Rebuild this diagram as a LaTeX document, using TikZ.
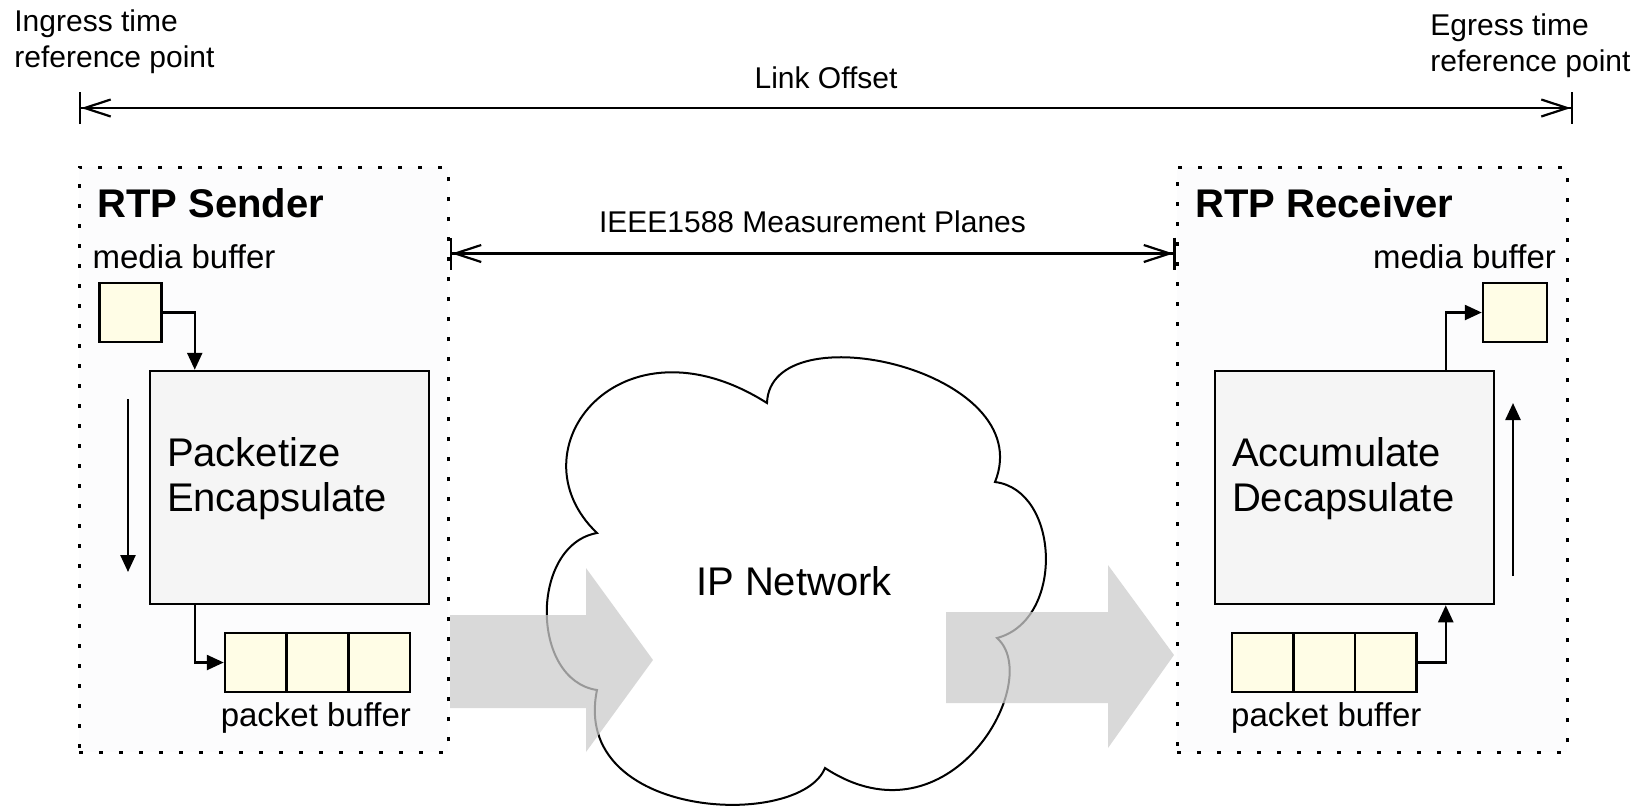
\documentclass[tikz,border=0pt]{standalone}
\usepackage{fontspec}
\setmainfont{Liberation Sans}
\usetikzlibrary{arrows.meta,positioning}
\definecolor{bufyellow}{HTML}{FFFDE6}
\definecolor{procgray}{HTML}{F5F5F5}
\definecolor{groupfill}{HTML}{FCFCFD}

\begin{document}
\begin{tikzpicture}[x=0.5pt,y=-0.5pt,
	lbl/.style={inner sep=0pt,font=\fontsize{15}{18}\selectfont},
	tag/.style={inner sep=0pt,font=\fontsize{16.5}{20}\selectfont},
	title/.style={inner sep=0pt,font=\fontsize{20}{24}\selectfont\bfseries},
	group/.style={draw,line width=1.5pt,dash pattern=on 2pt off 8pt,fill=groupfill,minimum height=292.5pt},
	proc/.style={draw,line width=1.25pt,fill=procgray,align=left,text width=122.5pt,inner xsep=8.5pt,
		minimum width=139.5pt,minimum height=116.5pt,text depth=36pt,font=\fontsize{20}{22.5}\selectfont},
	buf/.style={draw,line width=1.25pt,fill=bufyellow,inner sep=0pt,minimum width=31pt,minimum height=29.5pt},
	flow/.style={line width=1.25pt,-{Triangle[length=8.5pt,width=7.5pt]}},
	span/.style={line width=1.1pt,{Bar[width=16pt]Straight Barb[length=13pt,width=8.5pt]}-{Straight Barb[length=13pt,width=8.5pt]Bar[width=16pt]}},
	pipe/.style={fill=black!20,fill opacity=0.75}]
	\useasboundingbox (0,0) rectangle (1645,811);

	% end points of the link
	\coordinate (ingress) at (79,108);
	\coordinate (egress) at (1573,108);
	\node[lbl,align=left,anchor=north west] (ingtxt) at (14,9) {Ingress time\\reference point};
	\node[lbl,align=left,anchor=north west] (egrtxt) at (1430,13) {Egress time\\reference point};
	\draw[span] (ingress) -- node[lbl,anchor=base,yshift=10pt] {Link Offset} (egress);

	% sender and receiver
	\node[group,minimum width=184.5pt] (sender) at (263.5,459.5) {};
	\node[group,minimum width=195pt] (receiver) at (1372,459.5) {};
	\node[title,anchor=base west] (stitle) at (97,217) {RTP Sender};
	\node[title,anchor=base west] (rtitle) at (1195,217) {RTP Receiver};
	\draw[span] ([yshift=-44pt]sender.north east) -- node[lbl,anchor=base,yshift=10.5pt] {IEEE1588 Measurement Planes} ([yshift=-44pt]receiver.north west);

	% network
	\draw[line width=1pt,fill=white] (597,533) .. controls (510,450) and (620,310) .. (767,403)
		.. controls (770,310) and (1040,370) .. (995,482)
		.. controls (1060,490) and (1065,620) .. (997,638)
		.. controls (1045,680) and (950,850) .. (825,768)
		.. controls (800,830) and (570,820) .. (597,690)
		.. controls (530,680) and (530,545) .. cycle;
	\node[font=\fontsize{20}{24}\selectfont,anchor=base] (ipnet) at (794,595) {IP Network};
	\fill[pipe] (450,615) -- (586,615) -- (586,568) -- (653,660) -- (586,752) -- (586,708) -- (450,708) -- cycle;
	\fill[pipe] (946,612) -- (1108,612) -- (1108,565) -- (1174,655) -- (1108,748) -- (1108,703) -- (946,703) -- cycle;

	% sender side
	\node[buf] (smedia) at (130.5,312.5) {};
	\node[tag,anchor=base west] (smtxt) at ([xshift=-3pt,yshift=6.5pt]smedia.north west) {media buffer};
	\node[proc] (pack) at (289.5,487.5) {Packetize\\Encapsulate};
	\foreach \i in {1,2,3}
		\node[buf,minimum width=30.85pt] (sc\i) at ({194.15+61.7*\i},662.5) {};
	\node[tag,anchor=base east] (sptxt) at ([yshift=-16.5pt]sc3.south east) {packet buffer};
	\draw[flow] (smedia.east) -| ([xshift=23pt]pack.north west);
	\draw[flow] ([xshift=23pt]pack.south west) |- (sc1.west);
	\coordinate (sdown0) at (128,399);
	\coordinate (sdown1) at (128,572);
	\draw[flow] (sdown0) -- (sdown1);

	% receiver side
	\node[buf,minimum width=32pt] (rmedia) at (1515,312.5) {};
	\node[tag,anchor=base east] (rmtxt) at ([xshift=4pt,yshift=6.5pt]rmedia.north east) {media buffer};
	\node[proc] (dpack) at (1354.5,487.5) {Accumulate\\Decapsulate};
	\foreach \i in {1,2,3}
		\node[buf,minimum width=30.75pt] (rc\i) at ({1201.25+61.5*\i},662.5) {};
	\node[tag,anchor=base west] (rptxt) at ([yshift=-16.5pt]rc1.south west) {packet buffer};
	\draw[flow] (rc3.east) -| ([xshift=116pt]dpack.south west);
	\draw[flow] ([xshift=116pt]dpack.north west) |- (rmedia.west);
	\coordinate (rup0) at (1513,576);
	\coordinate (rup1) at (1513,403);
	\draw[flow] (rup0) -- (rup1);
\end{tikzpicture}
\end{document}
